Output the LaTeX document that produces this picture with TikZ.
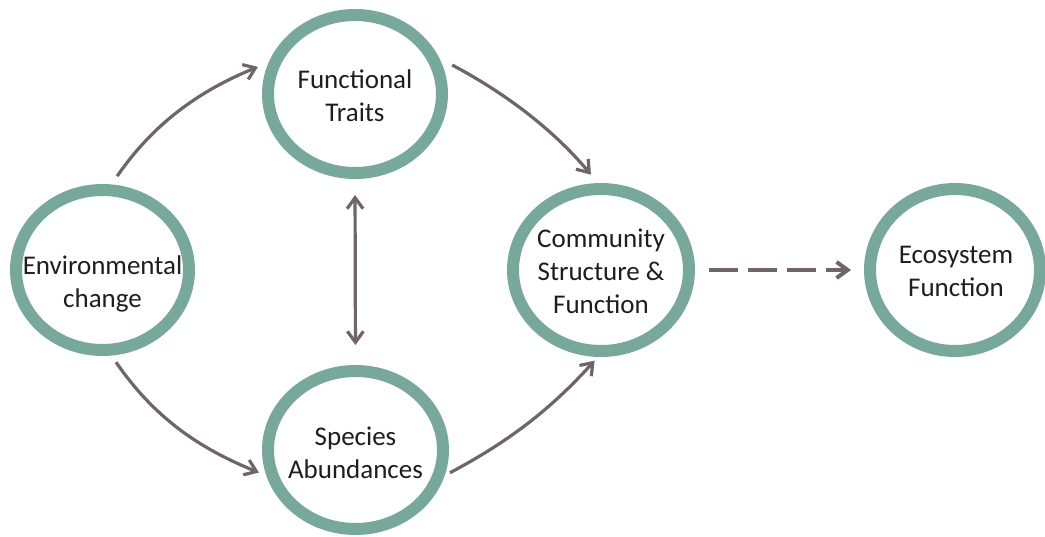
\documentclass[tikz,border=0pt]{standalone}
\usepackage{fontspec}
\setmainfont{Carlito}
\usetikzlibrary{arrows.meta,shapes.geometric}
\definecolor{ringcol}{RGB}{120,168,156}
\definecolor{arrcol}{RGB}{111,101,104}
\definecolor{txtcol}{RGB}{30,30,30}
\tikzset{
  ring/.style={ellipse, draw=ringcol, line width=12pt, inner sep=0pt},
  lbl/.style={align=center, inner sep=0pt, text=txtcol, font=\fontsize{27}{33}\selectfont},
  conn/.style={draw=arrcol, line width=3.2pt, -{Straight Barb[length=11pt,width=16pt]}},
  dconn/.style={draw=arrcol, line width=4pt, dash pattern=on 29pt off 10pt, -{Straight Barb[length=11pt,width=16pt]}}
}
\begin{document}
\begin{tikzpicture}[x=1pt,y=-1pt]
\fill[white] (0,0) rectangle (1045,536);
\useasboundingbox (0,0) rectangle (1045,536);
% rings
\node[ring, minimum width=173pt, minimum height=160pt] (env) at (102.5,270) {};
\node[ring, minimum width=174pt, minimum height=158pt] (ft) at (355,94) {};
\node[ring, minimum width=175pt, minimum height=158pt] (sa) at (355.5,450) {};
\node[ring, minimum width=176pt, minimum height=162pt] (com) at (601,270) {};
\node[ring, minimum width=170pt, minimum height=162pt] (eco) at (955,270) {};
% labels
\node[lbl] (envt) at (102.5,283.5) {Environmental\\change};
\node[lbl] (ftt) at (355,96) {Functional\\Traits};
\node[lbl] (sat) at (355.5,452.5) {Species\\Abundances};
\node[lbl] (comt) at (601,271) {Community\\Structure \&\\Function};
\node[lbl] (ecot) at (956,271) {Ecosystem\\Function};
% connectors
\draw[conn, shorten <=10pt, shorten >=11.5pt] (env.84) .. controls +(42,-61) and +(-69,28) .. (ft.160);
\draw[conn, shorten <=8pt, shorten >=8pt] (env.-84) .. controls +(42,61) and +(-69,-28) .. (sa.196);
\draw[conn, shorten <=14.5pt, shorten >=11pt] (ft.23) .. controls +(64,34) and +(-46,-55) .. (com.92);
\draw[conn, shorten <=6pt, shorten >=5pt] (sa.-16) .. controls +(64,-34) and +(-48,53) .. (com.-92);
\draw[conn, {Straight Barb[length=11pt,width=16pt]}-{Straight Barb[length=11pt,width=16pt]}, shorten <=16pt, shorten >=20pt] (ft.south) -- (sa.north);
\draw[dconn, shorten <=14pt, shorten >=13pt] (com.east) -- (eco.west);
\end{tikzpicture}
\end{document}
